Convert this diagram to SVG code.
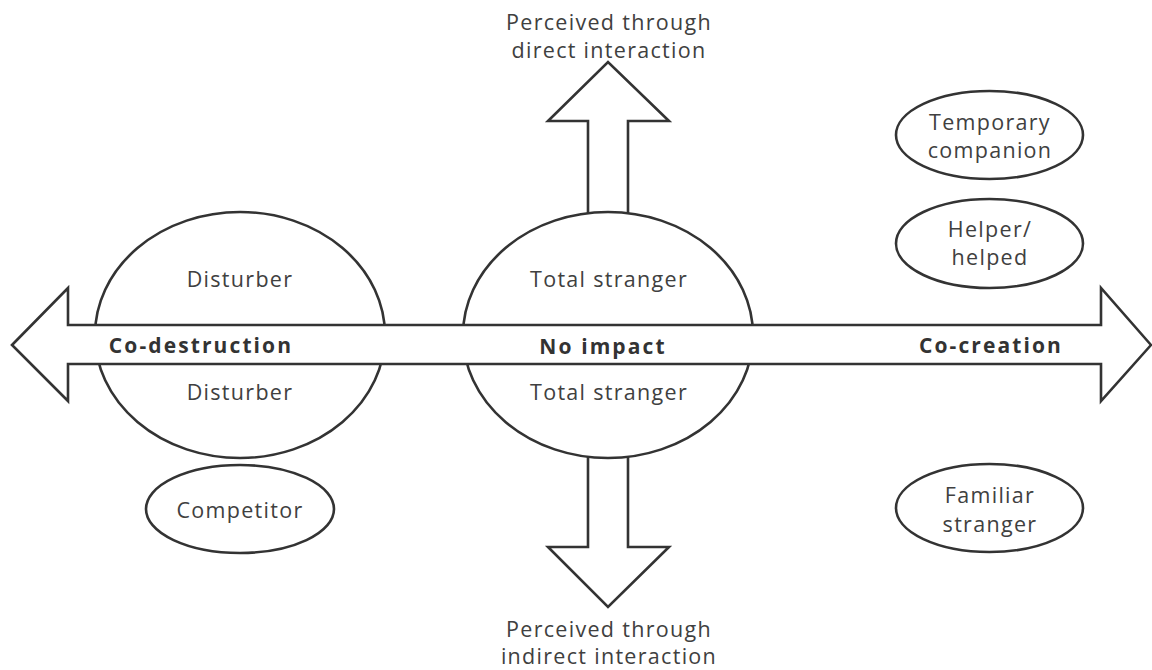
<svg xmlns="http://www.w3.org/2000/svg" width="1152" height="670" viewBox="0 0 1152 670">
<style>
.shape{fill:#fff;stroke:#333;stroke-width:2.6;stroke-linejoin:miter}
.t{font-family:"Open Sans","Noto Sans","DejaVu Sans",sans-serif;font-size:21.5px;fill:#404040;text-anchor:middle;letter-spacing:1.3px}
.b{font-family:"Open Sans","Noto Sans","DejaVu Sans",sans-serif;font-size:21px;font-weight:bold;fill:#333;text-anchor:middle;letter-spacing:2.1px}
</style>
<rect width="1152" height="670" fill="#fff"/>
<g id="connectors">
<polygon id="arrow-up" class="shape" points="588,214 588,121 548,121 608,62 669,121 628,121 628,214"/>
<polygon id="arrow-down" class="shape" points="588,455 588,547 548,547 608,607 669,547 628,547 628,455"/>
</g>
<g id="disturber">
<ellipse class="shape" cx="240" cy="335" rx="145" ry="123"/>
<text class="t" x="240" y="287">Disturber</text>
</g>
<g id="total-stranger">
<ellipse class="shape" cx="608" cy="335" rx="145" ry="123"/>
<text class="t" x="609" y="287">Total stranger</text>
</g>
<g id="axis">
<polygon class="shape" points="12,345 68,288 68,325 1101,325 1101,288 1151,345 1101,401 1101,364 68,364 68,401"/>
<text class="b" x="201" y="353">Co-destruction</text>
<text class="b" x="603" y="354">No impact</text>
<text class="b" x="991" y="353">Co-creation</text>
</g>
<g id="disturber-lower">
<text class="t" x="240" y="400">Disturber</text>
</g>
<g id="total-stranger-lower">
<text class="t" x="609" y="400">Total stranger</text>
</g>
<g id="competitor">
<ellipse class="shape" cx="240" cy="509" rx="94" ry="44"/>
<text class="t" x="240" y="518">Competitor</text>
</g>
<g id="temporary-companion">
<ellipse class="shape" cx="989.5" cy="135" rx="93.5" ry="44"/>
<text class="t" x="990" y="130">Temporary</text>
<text class="t" x="990" y="158">companion</text>
</g>
<g id="helper">
<ellipse class="shape" cx="989.5" cy="243.5" rx="93.5" ry="44.5"/>
<text class="t" x="990" y="237">Helper/</text>
<text class="t" x="990" y="265">helped</text>
</g>
<g id="familiar-stranger">
<ellipse class="shape" cx="989.5" cy="508" rx="93.5" ry="44"/>
<text class="t" x="990" y="503">Familiar</text>
<text class="t" x="990" y="532">stranger</text>
</g>
<g id="direct-label">
<text class="t" x="609" y="30">Perceived through</text>
<text class="t" x="609" y="58">direct interaction</text>
</g>
<g id="indirect-label">
<text class="t" x="609" y="637">Perceived through</text>
<text class="t" x="609" y="664">indirect interaction</text>
</g>
</svg>
